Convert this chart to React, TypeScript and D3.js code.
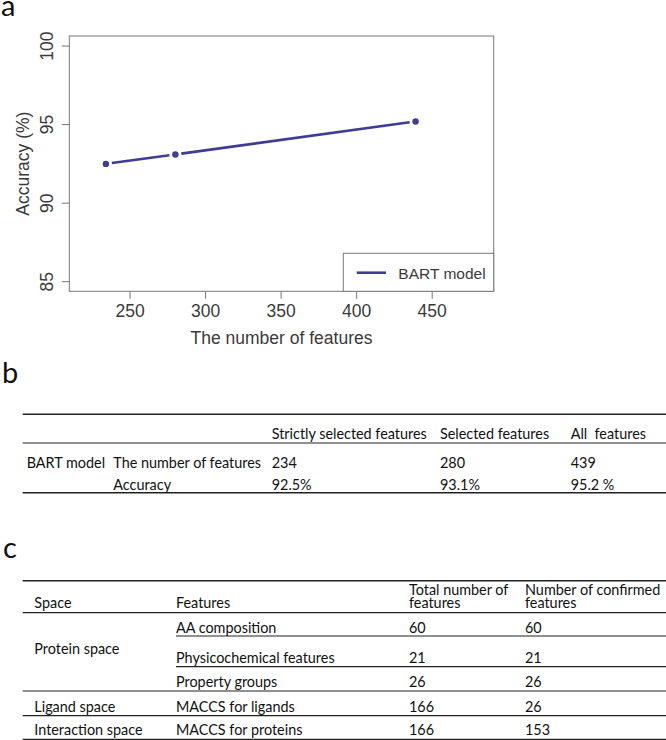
import React from "react";
import * as d3 from "d3";

// panel a data
const featureCounts = [234, 280, 439];
const accuracyValues = [92.5, 93.1, 95.2];
const xTicks = [250, 300, 350, 400, 450];
const yTicks = [85, 90, 95, 100];
const seriesName = "BART model";

// panel b data
const bColumns = ["Strictly selected features", "Selected features", "All  features"];
const bRowLabels = ["The number of features", "Accuracy"];
const bCounts = ["234", "280", "439"];
const bAccuracy = ["92.5%", "93.1%", "95.2 %"];

// panel c data
const cHeaders = ["Space", "Features", "Total number of|features", "Number of confirmed|features"];
const cFeatures = [
  "AA composition",
  "Physicochemical features",
  "Property groups",
  "MACCS for ligands",
  "MACCS for proteins",
];
const cSpaces = ["Protein space", "Ligand space", "Interaction space"];
const cTotals = ["60", "21", "26", "166", "166"];
const cConfirmed = ["60", "21", "26", "26", "153"];

const plot = { left: 69.3, right: 493.7, top: 36, bottom: 291.3 };
const lineColor = "#3f3c98";
const axisText = "#3a3a3a";
const plotFont = "'Liberation Sans', Arial, sans-serif";
const tableFont = "Lato, 'Open Sans', sans-serif";
const tableSize = 14.4;
const ruleColor = "#222";

export default function App(): JSX.Element {
  const x = d3.scaleLinear().domain([209.8, 490.7]).range([plot.left, plot.right]);
  const y = d3.scaleLinear().domain([84.39, 100.64]).range([plot.bottom, plot.top]);

  const pts = featureCounts.map((f, i) => [x(f), y(accuracyValues[i])] as [number, number]);
  const gap = 6;
  const segments = pts.slice(1).map((p, i) => {
    const a = pts[i];
    const dx = p[0] - a[0];
    const dy = p[1] - a[1];
    const len = Math.hypot(dx, dy);
    const ux = dx / len;
    const uy = dy / len;
    return [a[0] + ux * gap, a[1] + uy * gap, p[0] - ux * gap, p[1] - uy * gap];
  });

  // table b layout
  const bColX = [271.7, 440, 570.7];
  // table c layout
  const cColX = [34.3, 176, 409, 525];
  const cBase = [632.7, 663.3, 686.7, 711.7, 735];
  const cRules = [
    { y: 636, x0: 176 },
    { y: 666.7, x0: 176 },
    { y: 691, x0: 22.7 },
    { y: 715.7, x0: 22.7 },
    { y: 739.3, x0: 22.7 },
  ];
  const spaceBase = [654.3, 711.7, 735];

  return (
    <svg
      width={666}
      height={740}
      style={{ position: "absolute", left: 0, top: 0, background: "#fff" }}
    >
      {/* panel letters */}
      <g fontFamily={tableFont} fontSize={29} fill="#111">
        <text x={1} y={16}>a</text>
        <text x={2} y={383}>b</text>
        <text x={3} y={558}>c</text>
      </g>

      {/* panel a */}
      <g fontFamily={plotFont} fill={axisText}>
        <rect
          x={plot.left}
          y={plot.top}
          width={plot.right - plot.left}
          height={plot.bottom - plot.top}
          fill="none"
          stroke="#777"
          strokeWidth={1}
        />
        {xTicks.map((t) => (
          <g key={"x" + t}>
            <line x1={x(t)} x2={x(t)} y1={plot.bottom} y2={plot.bottom + 7.5} stroke="#777" />
            <text x={x(t)} y={316.7} fontSize={17.5} textAnchor="middle">
              {t}
            </text>
          </g>
        ))}
        {yTicks.map((t) => (
          <g key={"y" + t}>
            <line x1={plot.left - 7.5} x2={plot.left} y1={y(t)} y2={y(t)} stroke="#777" />
            <text
              transform={`translate(53.3,${y(t)}) rotate(-90)`}
              fontSize={17.5}
              textAnchor="middle"
            >
              {t}
            </text>
          </g>
        ))}
        <text x={(plot.left + plot.right) / 2} y={344} fontSize={17.5} textAnchor="middle">
          The number of features
        </text>
        <text
          transform={`translate(28.7,${(plot.top + plot.bottom) / 2}) rotate(-90)`}
          fontSize={17.5}
          textAnchor="middle"
        >
          Accuracy (%)
        </text>

        {segments.map((s, i) => (
          <line
            key={"s" + i}
            x1={s[0]}
            y1={s[1]}
            x2={s[2]}
            y2={s[3]}
            stroke={lineColor}
            strokeWidth={2.6}
          />
        ))}
        {pts.map((p, i) => (
          <circle key={"p" + i} cx={p[0]} cy={p[1]} r={3.2} fill={lineColor} />
        ))}

        <rect
          x={343.3}
          y={253.3}
          width={plot.right - 343.3}
          height={plot.bottom - 253.3}
          fill="#fff"
          stroke="#777"
        />
        <line x1={356.7} x2={386} y1={272.7} y2={272.7} stroke={lineColor} strokeWidth={2.6} />
        <text x={398.3} y={279.3} fontSize={15.5}>
          {seriesName}
        </text>
      </g>

      {/* panel b */}
      <g fontFamily={tableFont} fontSize={tableSize} fill="#111" style={{ whiteSpace: "pre" }}>
        <line x1={22.7} x2={666} y1={414.3} y2={414.3} stroke={ruleColor} strokeWidth={1.4} />
        <line x1={22.7} x2={666} y1={443} y2={443} stroke={ruleColor} strokeWidth={1.2} />
        <line x1={22.7} x2={666} y1={492.7} y2={492.7} stroke={ruleColor} strokeWidth={1.4} />
        {bColumns.map((c, i) => (
          <text key={"bc" + i} x={bColX[i]} y={439.3} xmlSpace="preserve">
            {c}
          </text>
        ))}
        <text x={26.7} y={468}>BART model</text>
        {bRowLabels.map((r, i) => (
          <text key={"br" + i} x={113.3} y={i === 0 ? 468 : 490}>
            {r}
          </text>
        ))}
        {bCounts.map((v, i) => (
          <text key={"bn" + i} x={bColX[i]} y={468}>
            {v}
          </text>
        ))}
        {bAccuracy.map((v, i) => (
          <text key={"ba" + i} x={bColX[i]} y={490} xmlSpace="preserve">
            {v}
          </text>
        ))}
      </g>

      {/* panel c */}
      <g fontFamily={tableFont} fontSize={tableSize} fill="#111">
        <line x1={22.7} x2={666} y1={580.7} y2={580.7} stroke={ruleColor} strokeWidth={1.4} />
        <line x1={22.7} x2={666} y1={612.7} y2={612.7} stroke={ruleColor} strokeWidth={1.2} />
        {cRules.map((r, i) => (
          <line
            key={"cr" + i}
            x1={r.x0}
            x2={666}
            y1={r.y}
            y2={r.y}
            stroke={ruleColor}
            strokeWidth={1.2}
          />
        ))}
        {cHeaders.map((h, i) => {
          const parts = h.split("|");
          if (parts.length === 1) {
            return (
              <text key={"ch" + i} x={cColX[i]} y={608.3}>
                {h}
              </text>
            );
          }
          return (
            <text key={"ch" + i} x={cColX[i]} y={594.5}>
              <tspan x={cColX[i]} y={594.5}>{parts[0]}</tspan>
              <tspan x={cColX[i]} y={608.3}>{parts[1]}</tspan>
            </text>
          );
        })}
        {cSpaces.map((s, i) => (
          <text key={"cs" + i} x={cColX[0]} y={spaceBase[i]}>
            {s}
          </text>
        ))}
        {cFeatures.map((f, i) => (
          <g key={"cf" + i}>
            <text x={cColX[1]} y={cBase[i]}>{f}</text>
            <text x={cColX[2]} y={cBase[i]}>{cTotals[i]}</text>
            <text x={cColX[3]} y={cBase[i]}>{cConfirmed[i]}</text>
          </g>
        ))}
      </g>
    </svg>
  );
}
